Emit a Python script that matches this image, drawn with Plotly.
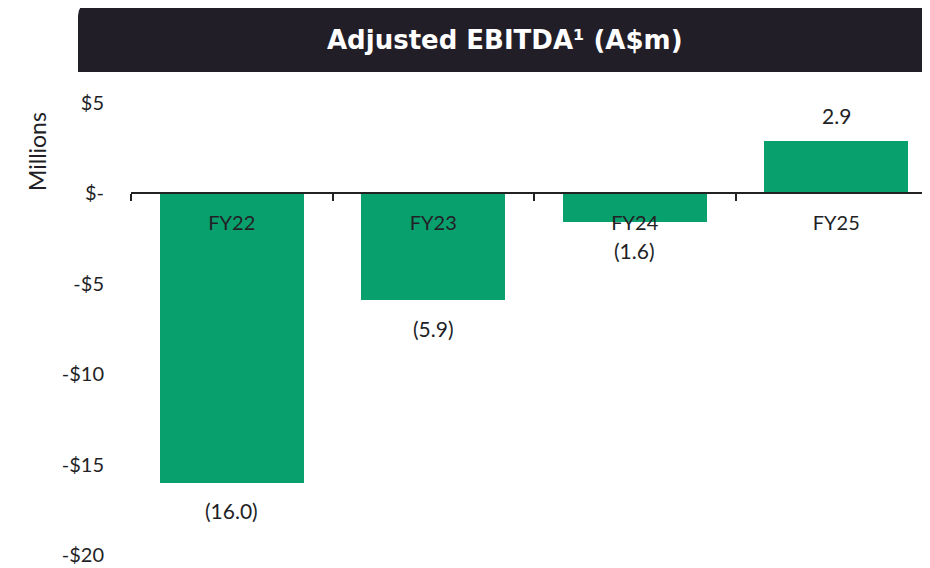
import plotly.graph_objects as go

# ---- data ----
categories = ["FY22", "FY23", "FY24", "FY25"]
ebitda = [-16.0, -5.9, -1.6, 2.9]
y_tick_values = [5, 0, -5, -10, -15, -20]
y_tick_labels = ["$5", "$-", "-$5", "-$10", "-$15", "-$20"]
title_text = "Adjusted EBITDA¹ (A$m)"
y_title = "Millions"


def fmt(v):
    return f"({abs(v):.1f})" if v < 0 else f"{v:.1f}"


OFF = 8  # page body margin
W, H = 930 - OFF, 568 - OFF
ML, MR, MT, MB = 131 - OFF, 0, 103 - OFF, 13
PW, PH = W - ML - MR, H - MT - MB


def px_x(p):  # screen pixel -> paper x
    return (p - OFF - ML) / PW


def px_y(p):  # screen pixel -> paper y
    return (H - MB - (p - OFF)) / PH


GREEN = "#08A06D"
DARK = "#221E28"
TEXT = "#231F26"
FONT = "Lato"

fig = go.Figure()
fig.add_trace(go.Bar(
    x=categories, y=ebitda, marker=dict(color=GREEN, line=dict(width=0)),
    width=0.715, hoverinfo="skip", showlegend=False,
))

# data labels
for c, v in zip(categories, ebitda):
    fig.add_annotation(
        x=c, y=v, text=fmt(v), showarrow=False,
        yshift=(25 if v >= 0 else -28),
        font=dict(family=FONT, size=21, color=TEXT),
    )

# title box with rounded top corners
x0, x1 = px_x(78), px_x(930)
y0, y1 = px_y(72), px_y(4)
rx, ry = 12 / PW, 12 / PH
path = (f"M {x0},{y0} L {x0},{y1 - ry} Q {x0},{y1} {x0 + rx},{y1} "
        f"L {x1 - rx},{y1} Q {x1},{y1} {x1},{y1 - ry} L {x1},{y0} Z")
fig.add_shape(type="path", path=path, xref="paper", yref="paper",
              fillcolor=DARK, line=dict(width=0), layer="above")

fig.add_annotation(
    x=px_x(505), y=px_y(40), xref="paper", yref="paper", text=f"<b>{title_text}</b>",
    showarrow=False, font=dict(family="DejaVu Sans", size=26, color="white"),
    xanchor="center", yanchor="middle",
)

fig.add_annotation(
    x=px_x(37), y=px_y(152), xref="paper", yref="paper", text=y_title,
    showarrow=False, textangle=-90, font=dict(family=FONT, size=23, color=TEXT),
    xanchor="center", yanchor="middle",
)

fig.update_layout(
    width=W, height=H,
    margin=dict(l=ML, r=MR, t=MT, b=MB),
    plot_bgcolor="white", paper_bgcolor="white",
    bargap=0,
    xaxis=dict(
        type="category", range=[-0.5, 3.465],
        anchor="free", position=0.8,
        showline=True, linecolor="#222222", linewidth=2,
        ticks="outside", tickson="boundaries", ticklen=7, tickwidth=2, tickcolor="#222222",
        ticklabelstandoff=12,
        tickfont=dict(family=FONT, size=20, color=TEXT),
        showgrid=False, zeroline=False, fixedrange=True,
    ),
    yaxis=dict(
        range=[-20, 5], tickvals=y_tick_values, ticktext=y_tick_labels,
        showgrid=False, zeroline=False, showline=False, ticks="",
        ticklabelstandoff=26,
        tickfont=dict(family=FONT, size=20, color=TEXT),
        fixedrange=True,
    ),
)

fig.write_html("out.html")
